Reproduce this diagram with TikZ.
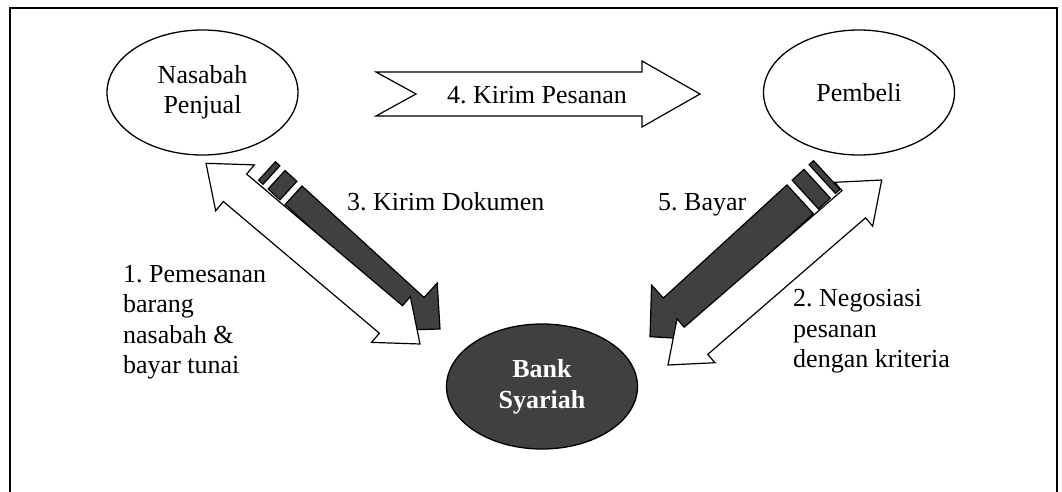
\documentclass[tikz,border=0pt]{standalone}
\usepackage{fontspec}
\setmainfont{Liberation Serif}
\usetikzlibrary{shapes.geometric,calc}
\definecolor{darkfill}{HTML}{404040}
\frenchspacing

\tikzset{
  blockline/.style={draw=black, line width=1.2pt, line join=miter},
  party/.style={ellipse, draw=black, line width=1.3pt, minimum width=191pt,
    minimum height=125pt, inner sep=0pt, align=center,
    font=\fontsize{26}{30}\selectfont},
  bankstyle/.style={party, fill=darkfill, text=white,
    font=\fontsize{26}{31}\selectfont\bfseries},
  steplabel/.style={inner sep=0pt, align=left,
    font=\fontsize{26}{30.5}\selectfont},
  outerframe/.style={line width=2pt, line cap=rect}
}

% length and direction of the axis between two named coordinates
\newcommand\axisof[2]{%
  \pgfpointdiff{\pgfpointanchor{#1}{center}}{\pgfpointanchor{#2}{center}}%
  \pgfgetlastxy{\axdx}{\axdy}%
  \pgfmathsetmacro\axlen{veclen(\axdx,\axdy)}%
  \pgfmathsetmacro\axang{atan2(\axdy,\axdx)}%
}

% white block arrow with a head at both ends: from, to, shaft half-width, head half-width, head length
\newcommand\whitedouble[5]{%
  \axisof{#1}{#2}%
  \begin{scope}[shift={(#1)}, rotate=\axang, x=1pt, y=1pt]
    \draw[blockline, fill=white] (0,0) -- (#5,#4) -- (#5,#3) -- (\axlen-#5,#3)
      -- (\axlen-#5,#4) -- (\axlen,0) -- (\axlen-#5,-#4) -- (\axlen-#5,-#3)
      -- (#5,-#3) -- (#5,-#4) -- cycle;
  \end{scope}}

% dark block arrow with two stripes at its tail: from, to, body half-width, head half-width, head length
\newcommand\stripedarrow[5]{%
  \axisof{#1}{#2}%
  \begin{scope}[shift={(#1)}, rotate=\axang, x=1pt, y=1pt]
    \draw[blockline, fill=darkfill] (0,-#3) rectangle (6,#3);
    \draw[blockline, fill=darkfill] (13,-#3) rectangle (29,#3);
    \draw[blockline, fill=darkfill] (36,-#3) -- (36,#3) -- (\axlen-#5,#3)
      -- (\axlen-#5,#4) -- (\axlen,0) -- (\axlen-#5,-#4) -- (\axlen-#5,-#3) -- cycle;
  \end{scope}}

% white block arrow with a notched tail: from, to, body half-width, head half-width, head length, notch depth
\newcommand\notcharrow[6]{%
  \axisof{#1}{#2}%
  \begin{scope}[shift={(#1)}, rotate=\axang, x=1pt, y=1pt]
    \draw[blockline, fill=white] (0,#3) -- (\axlen-#5,#3) -- (\axlen-#5,#4)
      -- (\axlen,0) -- (\axlen-#5,-#4) -- (\axlen-#5,-#3) -- (0,-#3) -- (#6,0) -- cycle;
  \end{scope}}

\begin{document}
\begin{tikzpicture}[x=1pt, y=-1pt]
  \useasboundingbox (0,0) rectangle (1062,492);

  % page frame
  \draw[outerframe] (10,492) -- (10,8) -- (1057,8) -- (1057,492);

  % parties
  \node[party] (nasabah) at (202.5,92.5) {Nasabah\\Penjual};
  \node[party] (pembeli) at (859,92.5) {Pembeli};
  \node[bankstyle] (bank) at (542,386.5) {Bank\\Syariah};

  % ends of the block arrows
  \coordinate (k4a) at (376,94);
  \coordinate (k4b) at (700,94);
  \coordinate (d3a) at (267,171);
  \coordinate (d3b) at (440,329);
  \coordinate (w1a) at (206,163.3);
  \coordinate (w1b) at (420,344);
  \coordinate (d5a) at (826.7,175);
  \coordinate (d5b) at (650,336.7);
  \coordinate (w2a) at (668,365);
  \coordinate (w2b) at (881.7,180);

  % 4: goods sent from seller to buyer
  \notcharrow{k4a}{k4b}{22}{33}{58}{40}
  \node[steplabel, anchor=base] (lab4) at (537,103) {4. Kirim Pesanan};

  % 3 and 5: documents and payment towards the bank
  \stripedarrow{d3a}{d3b}{12.5}{32}{33}
  \stripedarrow{d5a}{d5b}{19.5}{37}{36}

  % 1 and 2: two-way exchanges with the bank
  \whitedouble{w1a}{w1b}{18}{30}{38}
  \whitedouble{w2a}{w2b}{18}{29}{37}

  % step labels
  \node[steplabel, fill=white, inner xsep=6pt, inner ysep=5pt, text depth=6pt,
        anchor=base west] (lab3) at (341,210) {3. Kirim Dokumen};
  \node[steplabel, anchor=base west] (lab5) at (658,210) {5. Bayar};
  \node[steplabel, anchor=north west] (lab1) at (123,265)
    {1. Pemesanan\\barang\\nasabah \&\\bayar tunai};
  \node[steplabel, anchor=north west] (lab2) at (793,289.5)
    {2. Negosiasi\\pesanan\\dengan kriteria};
\end{tikzpicture}
\end{document}
